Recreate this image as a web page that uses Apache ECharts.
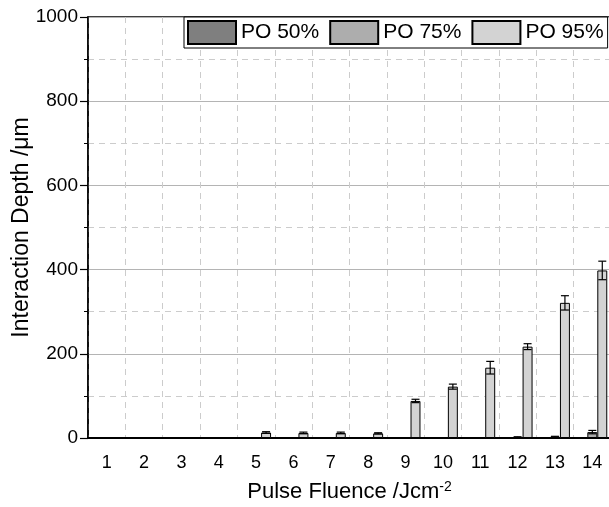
<!DOCTYPE html>
<html lang="en">
<head>
    <meta charset="UTF-8">
    <title>Interaction Depth</title>
    <script src="https://cdn.jsdelivr.net/npm/echarts@6/dist/echarts.min.js"></script>
</head>
<body style="margin: 0">
<div id="main" style="width: 609px;height: 507px"></div>
<script>
    // fluence categories
    const fluence = ['1', '2', '3', '4', '5', '6', '7', '8', '9', '10', '11', '12', '13', '14'];

    // interaction depth (um) and error for each overlap
    const po50 = [0, 0, 0, 0, 0, 0, 0, 0, 0, 0, 0, 0, 0, 0];
    const po75 = [0, 0, 0, 0, 0, 0, 0, 0, 0, 0, 0, 2, 3, 14];
    const po75Err = [0, 0, 0, 0, 0, 0, 0, 0, 0, 0, 0, 1, 1, 4];
    const po95 = [0, 0, 0, 0, 13, 12, 12, 11, 88, 122, 167, 217, 321, 398];
    const po95Err = [0, 0, 0, 0, 2, 2, 2, 1.5, 4, 6, 15, 7, 17, 22];

    const font = 'Liberation Sans, Arial, sans-serif';

    function errData(vals, errs) {
        const out = [];
        for (let i = 0; i < vals.length; i++) {
            if (errs[i] > 0) out.push([i, vals[i], errs[i]]);
        }
        return out;
    }

    function errSeries(vals, errs, slot) {
        return {
            type: 'custom',
            z: 5,
            silent: true,
            data: errData(vals, errs),
            renderItem: function (params, api) {
                const i = api.value(0);
                const v = api.value(1);
                const e = api.value(2);
                const band = api.size([1, 0])[0];
                const w = band * 0.8 / 3;
                const x = api.coord([i, v])[0] + slot * w;
                const top = api.coord([i, v + e])[1];
                const bot = api.coord([i, Math.max(v - e, 0)])[1];
                const cap = 4;
                const st = {stroke: '#000', lineWidth: 1.2};
                return {
                    type: 'group',
                    children: [
                        {type: 'line', shape: {x1: x, y1: top, x2: x, y2: bot}, style: st},
                        {type: 'line', shape: {x1: x - cap, y1: top, x2: x + cap, y2: top}, style: st},
                        {type: 'line', shape: {x1: x - cap, y1: bot, x2: x + cap, y2: bot}, style: st}
                    ]
                };
            }
        };
    }

    const chart = echarts.init(document.getElementById('main'));

    const barStyle = function (color) {
        return {color: color, borderColor: '#000', borderWidth: 1};
    };

    const option = {
        backgroundColor: '#fff',
        animation: false,
        textStyle: {fontFamily: font},
        grid: {
            left: 88, right: -2, top: 17, bottom: 69,
            outerBoundsMode: 'none',
            containLabel: false,
            show: true, borderColor: '#000', borderWidth: 1.5
        },
        legend: {
            data: ['PO 50%', 'PO 75%', 'PO 95%'],
            left: 184,
            top: 17,
            padding: [3, 4, 3, 3],
            itemWidth: 48,
            itemHeight: 23,
            itemGap: 10,
            icon: 'rect',
            backgroundColor: '#fff',
            borderColor: '#000',
            borderWidth: 1,
            textStyle: {fontSize: 21, color: '#000', fontFamily: font}
        },
        xAxis: {
            type: 'category',
            data: fluence,
            name: 'Pulse Fluence /Jcm{sup|-2}',
            nameLocation: 'middle',
            nameGap: 42,
            nameMoveOverlap: false,
            nameTextStyle: {
                fontSize: 22, color: '#000', fontFamily: font,
                rich: {
                    sup: {fontSize: 14, verticalAlign: 'top', padding: [0, 0, 10, 0], fontFamily: font, color: '#000'}
                }
            },
            axisLine: {lineStyle: {color: '#000', width: 2}},
            axisTick: {alignWithLabel: true, length: 7, lineStyle: {color: '#000', width: 1.5}},
            axisLabel: {fontSize: 18, color: '#000', margin: 16, fontFamily: font},
            splitLine: {show: true, lineStyle: {color: '#cccccc', type: [6, 5], width: 1}}
        },
        yAxis: {
            type: 'value',
            min: 0,
            max: 1000,
            interval: 200,
            name: 'Interaction Depth /μm',
            nameLocation: 'middle',
            nameGap: 55,
            nameMoveOverlap: false,
            nameTextStyle: {fontSize: 23, color: '#000', fontFamily: font},
            axisLine: {show: true, lineStyle: {color: '#000', width: 1.5}},
            axisTick: {show: true, inside: false, length: 8, lineStyle: {color: '#000', width: 1.2}},
            minorTick: {show: true, splitNumber: 2, length: 4, lineStyle: {color: '#000', width: 1}},
            axisLabel: {
                fontSize: 19, color: '#000', margin: 10, fontFamily: font,
                formatter: function (v) { return String(v); }
            },
            splitLine: {show: true, lineStyle: {color: '#b4b4b4', width: 1}},
            minorSplitLine: {show: true, lineStyle: {color: '#cccccc', type: [6, 5], width: 1}}
        },
        series: [
            {name: 'PO 50%', type: 'bar', data: po50, barGap: '0%', barCategoryGap: '20%', itemStyle: barStyle('#7f7f7f')},
            {name: 'PO 75%', type: 'bar', data: po75, barGap: '0%', barCategoryGap: '20%', itemStyle: barStyle('#adadad')},
            {name: 'PO 95%', type: 'bar', data: po95, barGap: '0%', barCategoryGap: '20%', itemStyle: barStyle('#d3d3d3')},
            errSeries(po75, po75Err, 0),
            errSeries(po95, po95Err, 1)
        ]
    };
    chart.setOption(option);
</script>
</body>
</html>
